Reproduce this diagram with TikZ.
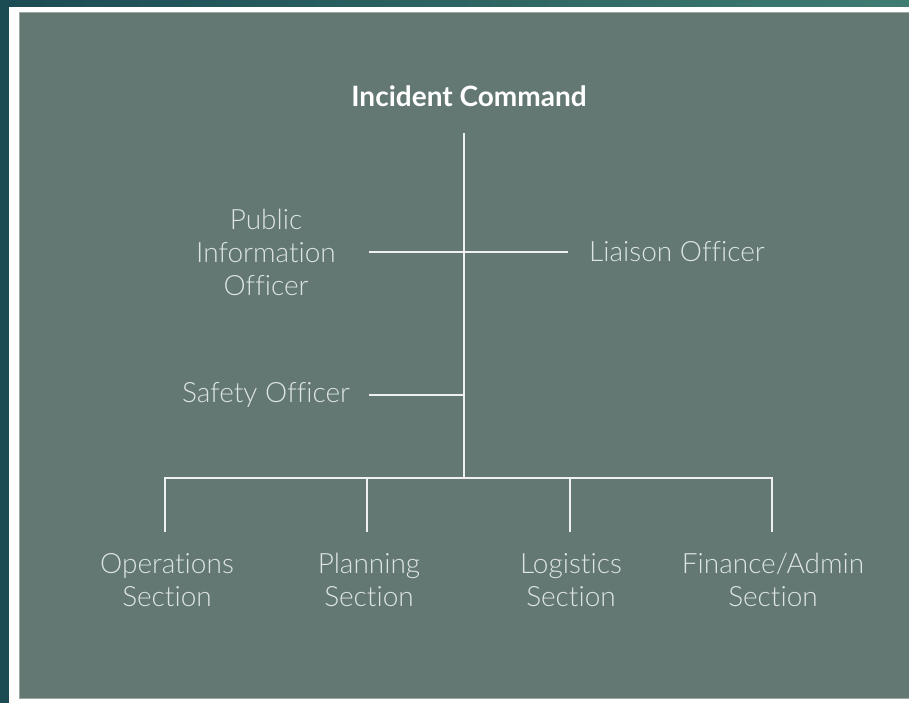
\documentclass[tikz,border=0pt]{standalone}
\usepackage{fontspec}
\setmainfont{Lato}[Ligatures=NoCommon]
\newfontfamily\latolight{Lato Light}[Ligatures=NoCommon]
\definecolor{panel}{HTML}{637873}
\definecolor{panelborder}{HTML}{9AA8A4}
\definecolor{inkline}{HTML}{EEF1EF}
\definecolor{txt}{HTML}{DDE4E1}
\definecolor{darkl}{HTML}{1B4B53}
\definecolor{darkr}{HTML}{3F7C72}
\begin{document}
\begin{tikzpicture}[x=1pt,y=-1pt,
  conn/.style={draw=inkline,line width=2.4pt},
  lbl/.style={text=txt,font=\latolight\fontsize{28}{33}\selectfont,align=center,inner sep=0pt},
  ttl/.style={text=white,font=\bfseries\fontsize{28}{30}\selectfont,inner sep=0pt}]
\useasboundingbox (0,0) rectangle (909,703);
\shade[left color=darkl,right color=darkr] (0,0) rectangle (909,703);
\fill[white] (9,7) rectangle (909,703);
\filldraw[fill=panel,draw=panelborder,line width=1pt] (19,12.5) rectangle (910,698);
\node[ttl] (ic) at (469,96) {Incident Command};
\node[lbl] (pio) at (266,252) {Public\\Information\\Officer};
\node[lbl,anchor=west] (lia) at (589,252) {Liaison Officer};
\node[lbl] (saf) at (266,395) {Safety Officer};
\node[lbl] (ops) at (167,580) {Operations\\Section};
\node[lbl] (pln) at (369,580) {Planning\\Section};
\node[lbl] (log) at (571,580) {Logistics\\Section};
\node[lbl] (fin) at (773,580) {Finance/Admin\\Section};
\coordinate (top) at (464,133);
\coordinate (bus) at (464,478);
\coordinate (pioL) at (369,252);
\coordinate (liaR) at (568,252);
\coordinate (safL) at (369,395);
\coordinate (safJ) at (464,395);
\coordinate (opsT) at (165,478);
\coordinate (plnT) at (367,478);
\coordinate (logT) at (570,478);
\coordinate (finT) at (772,478);
\coordinate (opsB) at (165,532);
\coordinate (plnB) at (367,532);
\coordinate (logB) at (570,532);
\coordinate (finB) at (772,532);
\draw[conn] (top) -- (bus);
\draw[conn] (pioL) -- (liaR);
\draw[conn] (safL) -- (safJ);
\draw[conn] (opsB) -- (opsT) -- (finT) -- (finB);
\draw[conn] (plnT) -- (plnB);
\draw[conn] (logT) -- (logB);
\end{tikzpicture}
\end{document}
